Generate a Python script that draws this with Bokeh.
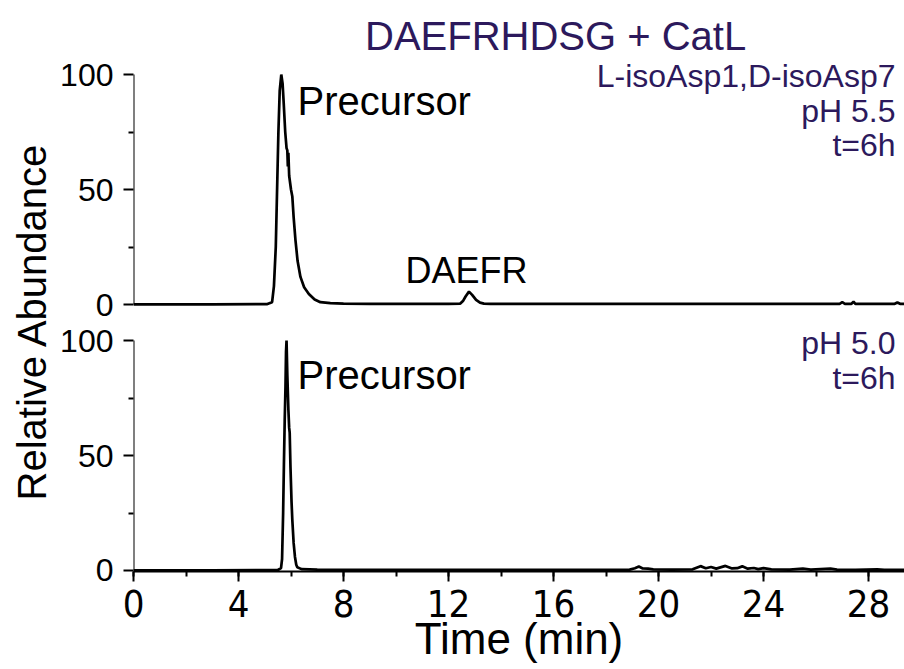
import numpy as np
from bokeh.plotting import figure
from bokeh.models import Range1d, FixedTicker, Label, Title
from bokeh.embed import file_html
from bokeh.resources import INLINE

# ---------------- data ----------------
title_text = "DAEFRHDSG + CatL"
y_label = "Relative Abundance"
x_label = "Time (min)"
top_notes = ["L-isoAsp1,D-isoAsp7", "pH 5.5", "t=6h"]
bottom_notes = ["pH 5.0", "t=6h"]
peak_top = "Precursor"
peak_small = "DAEFR"
peak_bottom = "Precursor"

x_ticks = [0, 4, 8, 12, 16, 20, 24, 28]
x_minor = [0, 2, 4, 6, 8, 10, 12, 14, 16, 18, 20, 22, 24, 26, 28]
y_ticks = [0, 50, 100]
y_minor = [25, 75]

# pH 5.5 trace (upper panel)
top_time = [0.0, 3.0, 5.1, 5.28, 5.35, 5.42, 5.47, 5.52, 5.57, 5.63, 5.68, 5.72,
            5.78, 5.83, 5.86, 5.88, 5.90, 5.93, 6.00, 6.05, 6.10, 6.17, 6.25, 6.36,
            6.50, 6.68, 6.90, 7.12, 7.50, 8.00, 9.0, 10.0, 11.0, 12.0, 12.45, 12.55,
            12.65, 12.78, 12.9, 13.05, 13.2, 13.35, 13.6, 14.5, 16.0, 18.0, 20.0,
            22.0, 24.0, 26.0, 26.9, 27.0, 27.1, 27.35, 27.43, 27.5, 28.2, 29.0,
            29.1, 29.2, 29.37]
top_abund = [0.1, 0.1, 0.2, 1.0, 8.0, 25.0, 50.0, 75.0, 93.0, 100.0, 96.0, 88.0,
             75.0, 68.0, 67.0, 60.0, 66.0, 56.0, 50.0, 47.0, 38.0, 28.0, 19.0, 12.0,
             7.5, 4.6, 2.2, 1.0, 0.6, 0.4, 0.3, 0.3, 0.3, 0.3, 0.4, 1.5,
             3.5, 5.6, 4.2, 2.0, 0.8, 0.4, 0.3, 0.3, 0.3, 0.3, 0.3,
             0.3, 0.3, 0.3, 0.3, 1.0, 0.3, 0.3, 1.2, 0.3, 0.3, 0.3,
             0.9, 0.3, 0.3]

# pH 5.0 trace (lower panel)
bot_time = [0.0, 3.0, 5.5, 5.62, 5.66, 5.70, 5.73, 5.76, 5.79, 5.81, 5.83, 5.86,
            5.90, 5.93, 5.95, 5.98, 6.02, 6.05, 6.10, 6.15, 6.20, 6.24, 6.40, 7.0,
            9.0, 12.0, 15.0, 18.0, 18.9, 19.1, 19.25, 19.4, 19.6, 19.8, 20.5, 21.3,
            21.6, 21.8, 22.0, 22.2, 22.55, 22.8, 23.0, 23.19, 23.4, 23.63, 23.8,
            24.0, 24.3, 25.0, 25.5, 25.8, 26.55, 26.8, 27.5, 28.33, 28.6, 29.37]
bot_abund = [0.1, 0.1, 0.2, 1.0, 5.0, 25.0, 46.0, 65.0, 80.0, 95.0, 100.0, 85.0,
             70.0, 62.0, 60.0, 45.0, 30.0, 22.0, 12.0, 6.0, 2.5, 1.4, 0.6, 0.4,
             0.3, 0.3, 0.3, 0.3, 0.4, 1.0, 1.7, 0.9, 0.8, 0.5, 0.4, 0.5,
             1.9, 1.0, 1.5, 0.8, 2.0, 0.9, 1.0, 1.8, 0.8, 1.1, 0.6,
             1.0, 0.5, 0.4, 0.8, 0.4, 0.8, 0.4, 0.3, 0.5, 0.3, 0.3]

# ---------------- styling ----------------
PURPLE = "#2c195c"
FONT = "Liberation Sans"
TICKFONT = "DejaVu Sans Condensed"
TOP_OFFSET = 115.65   # vertical shift of the upper panel in data units

p = figure(width=904, height=669, output_backend="svg", toolbar_location=None,
           x_range=Range1d(0, 29.371), y_range=Range1d(-0.435, 247.83),
           min_border_left=133, min_border_right=0, min_border_top=0,
           min_border_bottom=98)
p.outline_line_color = None
p.grid.visible = False
p.background_fill_color = "white"
p.border_fill_color = "white"

# y-axis title spanning both panels
ytitle = Title(text=y_label, text_font=FONT, text_font_size="40px",
               text_font_style="normal", text_color="black", align="left",
               offset=71, standoff=8)
p.add_layout(ytitle, "left")

# traces
p.line(top_time, np.array(top_abund) + TOP_OFFSET, line_color="black", line_width=2.7)
p.line(bot_time, bot_abund, line_color="black", line_width=2.7)

# y axis (two panels share one axis model; its line is drawn per panel)
y_major = [t for t in y_ticks] + [t + TOP_OFFSET for t in y_ticks]
y_min = [t for t in y_minor] + [t + TOP_OFFSET for t in y_minor]
yax = p.yaxis[0]
yax.ticker = FixedTicker(ticks=y_major, minor_ticks=y_min)
yax.major_label_overrides = {v: str(lab) for v, lab in zip(y_major, y_ticks + y_ticks)}
yax.axis_line_color = None
yax.major_tick_out = 10
yax.major_tick_in = 0
yax.minor_tick_out = 5
yax.minor_tick_in = 0
yax.major_tick_line_width = 2
yax.minor_tick_line_width = 2
yax.major_tick_line_color = "black"
yax.minor_tick_line_color = "black"
yax.major_label_text_font = FONT
yax.major_label_text_font_size = "32px"
yax.major_label_text_color = "black"
yax.major_label_standoff = 10

p.segment(x0=[0, 0], y0=[y_ticks[0], y_ticks[0] + TOP_OFFSET],
          x1=[0, 0], y1=[y_ticks[-1], y_ticks[-1] + TOP_OFFSET],
          line_color="black", line_width=2)

# x axis
xax = p.xaxis[0]
xax.ticker = FixedTicker(ticks=x_ticks, minor_ticks=x_minor)
xax.axis_line_width = 2
xax.axis_line_color = "black"
xax.major_tick_out = 10
xax.major_tick_in = 0
xax.minor_tick_out = 5
xax.minor_tick_in = 0
xax.major_tick_line_width = 2
xax.minor_tick_line_width = 2
xax.major_label_text_font = TICKFONT
xax.major_label_text_font_size = "38px"
xax.major_label_text_color = "black"
xax.major_label_standoff = 8
xax.axis_label = x_label
xax.axis_label_text_font = FONT
xax.axis_label_text_font_size = "44px"
xax.axis_label_text_font_style = "normal"
xax.axis_label_text_color = "black"
xax.axis_label_standoff = -6

# ---------------- texts ----------------
def add_text(x, y, text, size, color, align="left"):
    p.add_layout(Label(x=x, y=y, text=text, text_font=FONT, text_font_size=size,
                       text_color=color, text_align=align, text_baseline="alphabetic"))

add_text(16.08, 232.6, title_text, "40px", PURPLE, "center")
for yy, t in zip([215.2, 200.0, 184.8], top_notes):
    add_text(29.03, yy, t, "32px", PURPLE, "right")
for yy, t in zip([98.7, 83.5], bottom_notes):
    add_text(29.03, yy, t, "32px", PURPLE, "right")
add_text(6.25, 204.3, peak_top, "40px", "black")
add_text(10.36, 130.5, peak_small, "36px", "black")
add_text(6.25, 85.2, peak_bottom, "40px", "black")

open("out.html", "w").write(file_html(p, INLINE))
